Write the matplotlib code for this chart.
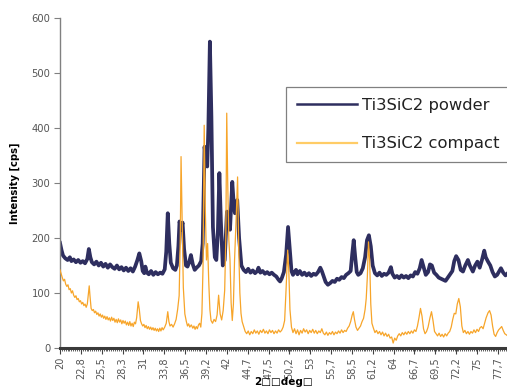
import numpy as np
import matplotlib.pyplot as plt
from matplotlib.lines import Line2D
from matplotlib.ticker import MultipleLocator

# XRD patterns (2theta in deg, intensity in cps)
powder_2theta = [
    20.0, 20.2, 20.4, 20.7, 21.0, 21.3, 21.5, 21.8, 22.1, 22.4, 22.7, 23.0, 23.3, 23.6, 23.8, 24.0,
    24.2, 24.5, 24.8, 25.1, 25.4, 25.7, 26.0, 26.3, 26.6, 26.9, 27.2, 27.5, 27.8, 28.1, 28.4, 28.7,
    29.0, 29.3, 29.6, 29.9, 30.2, 30.45, 30.7, 30.9, 31.1, 31.25, 31.45, 31.7, 32.0, 32.3, 32.6,
    32.9, 33.2, 33.5, 33.8, 34.0, 34.2, 34.4, 34.6, 34.9, 35.2, 35.4, 35.6, 35.75, 35.95, 36.15,
    36.35, 36.6, 36.8, 37.0, 37.25, 37.5, 37.75, 38.0, 38.3, 38.6, 38.8, 39.05, 39.2, 39.4, 39.55,
    39.75, 39.95, 40.15, 40.4, 40.6, 40.8, 41.0, 41.2, 41.45, 41.7, 42.0, 42.2, 42.4, 42.7, 42.9,
    43.05, 43.35, 43.6, 43.9, 44.2, 44.5, 44.8, 45.1, 45.4, 45.7, 46.0, 46.15, 46.4, 46.7, 47.0,
    47.3, 47.6, 47.9, 48.2, 48.5, 48.8, 49.0, 49.2, 49.5, 49.8, 50.05, 50.3, 50.5, 50.7, 50.9, 51.1,
    51.3, 51.6, 51.9, 52.2, 52.5, 52.8, 53.1, 53.4, 53.7, 54.0, 54.3, 54.5, 54.8, 55.0, 55.3, 55.6,
    55.9, 56.2, 56.5, 56.8, 57.1, 57.4, 57.7, 58.0, 58.3, 58.5, 58.7, 58.9, 59.1, 59.3, 59.6, 59.9,
    60.2, 60.45, 60.7, 60.95, 61.2, 61.5, 61.8, 62.1, 62.4, 62.7, 63.0, 63.3, 63.6, 63.8, 64.1,
    64.4, 64.7, 65.0, 65.3, 65.6, 65.9, 66.2, 66.5, 66.8, 67.1, 67.4, 67.65, 67.9, 68.2, 68.5,
    68.75, 69.0, 69.3, 69.6, 69.9, 70.2, 70.5, 70.8, 71.1, 71.4, 71.7, 71.95, 72.2, 72.5, 72.8,
    73.1, 73.4, 73.75, 74.0, 74.4, 74.7, 75.0, 75.3, 75.6, 75.9, 76.1, 76.4, 76.7, 77.0, 77.3,
    77.6, 77.9, 78.1, 78.4, 78.7, 79.0]
powder_cps = [
    191, 178, 168, 163, 160, 165, 158, 161, 156, 160, 155, 158, 154, 162, 180, 165,
    156, 152, 157, 150, 155, 148, 153, 146, 152, 147, 144, 150, 143, 147, 141, 146,
    140, 145, 139, 148, 160, 172, 158, 140, 136, 148, 137, 134, 140, 133, 138,
    134, 137, 135, 143, 175, 245, 190, 155, 145, 142, 150, 185, 230, 215, 228,
    180, 150, 148, 155, 169, 152, 142, 146, 150, 158, 190, 366, 345, 330, 400,
    557, 420, 220, 165, 160, 210, 318, 230, 150, 160, 248, 235, 215, 302, 260,
    245, 269, 200, 150, 142, 138, 144, 137, 141, 136, 140, 146, 137, 140, 135,
    138, 134, 137, 133, 130, 124, 121, 126, 138, 170, 220, 175, 140, 133, 138, 142,
    134, 140, 133, 137, 132, 136, 131, 135, 133, 138, 146, 140, 128, 120, 115, 118,
    122, 120, 126, 124, 129, 127, 133, 136, 140, 170, 196, 165, 138, 133, 136, 145,
    165, 196, 205, 185, 150, 136, 132, 137, 131, 135, 133, 137, 147, 135, 128,
    131, 127, 132, 128, 131, 127, 132, 130, 138, 135, 145, 160, 148, 133, 138,
    152, 150, 137, 133, 128, 126, 124, 122, 128, 134, 140, 158, 167, 160, 142,
    139, 150, 160, 150, 139, 150, 157, 146, 160, 177, 165, 157, 150, 138, 130,
    133, 140, 145, 137, 132, 136]

compact_2theta = [
    20.0, 20.15, 20.3, 20.45, 20.6, 20.75, 20.9, 21.05, 21.2, 21.35, 21.5, 21.65, 21.8, 21.95,
    22.1, 22.25, 22.4, 22.55, 22.7, 22.85, 23.0, 23.15, 23.3, 23.45, 23.6, 23.75, 23.85, 23.95,
    24.1, 24.25, 24.4, 24.55, 24.7, 24.85, 25.0, 25.15, 25.3, 25.45, 25.6, 25.75, 25.9, 26.05,
    26.2, 26.35, 26.5, 26.65, 26.8, 26.95, 27.1, 27.25, 27.4, 27.55, 27.7, 27.85, 28.0, 28.15,
    28.3, 28.45, 28.6, 28.75, 28.9, 29.05, 29.2, 29.35, 29.5, 29.65, 29.8, 29.95, 30.1, 30.3,
    30.45, 30.6, 30.75, 30.9, 31.05, 31.2, 31.35, 31.5, 31.65, 31.8, 31.95, 32.1, 32.25, 32.4,
    32.55, 32.7, 32.85, 33.0, 33.15, 33.3, 33.45, 33.6, 33.8, 34.0, 34.2, 34.35, 34.5, 34.7,
    34.9, 35.1, 35.3, 35.5, 35.7, 35.85, 35.95, 36.1, 36.25, 36.45, 36.65, 36.8, 36.95, 37.1,
    37.3, 37.5, 37.65, 37.8, 37.95, 38.1, 38.25, 38.4, 38.55, 38.7, 38.85, 39.0, 39.15, 39.3,
    39.45, 39.6, 39.75, 39.9, 40.1, 40.3, 40.5, 40.7, 40.9, 41.1, 41.3, 41.5, 41.7, 41.85,
    41.97, 42.1, 42.25, 42.4, 42.55, 42.7, 42.85, 43.0, 43.25, 43.4, 43.55, 43.7, 43.85, 44.0,
    44.2, 44.4, 44.6, 44.8, 45.0, 45.2, 45.4, 45.6, 45.8, 46.0, 46.2, 46.4, 46.6, 46.8, 47.0,
    47.2, 47.4, 47.6, 47.8, 48.0, 48.2, 48.4, 48.6, 48.8, 49.0, 49.2, 49.4, 49.6, 49.8, 50.0,
    50.15, 50.3, 50.5, 50.7, 50.9, 51.1, 51.3, 51.5, 51.7, 51.9, 52.1, 52.3, 52.5, 52.7, 52.9,
    53.1, 53.3, 53.5, 53.7, 53.9, 54.1, 54.3, 54.5, 54.7, 54.9, 55.1, 55.3, 55.5, 55.7, 55.9,
    56.1, 56.3, 56.5, 56.7, 56.9, 57.1, 57.3, 57.5, 57.7, 57.9, 58.1, 58.3, 58.5, 58.65, 58.8,
    59.0, 59.2, 59.4, 59.6, 59.8, 60.0, 60.2, 60.35, 60.5, 60.65, 60.8, 60.95, 61.1, 61.3, 61.5,
    61.7, 61.9, 62.1, 62.3, 62.5, 62.7, 62.9, 63.1, 63.3, 63.5, 63.7, 63.9, 64.1, 64.3, 64.5,
    64.7, 64.9, 65.1, 65.3, 65.5, 65.7, 65.9, 66.1, 66.3, 66.5, 66.7, 66.9, 67.1, 67.3, 67.5,
    67.7, 67.9, 68.1, 68.3, 68.5, 68.75, 68.95, 69.15, 69.35, 69.55, 69.75, 69.95, 70.15, 70.35,
    70.55, 70.75, 70.95, 71.15, 71.35, 71.55, 71.75, 71.95, 72.15, 72.35, 72.55, 72.75, 72.95,
    73.15, 73.35, 73.55, 73.75, 73.95, 74.15, 74.35, 74.55, 74.75, 74.95, 75.15, 75.35, 75.55,
    75.75, 75.95, 76.15, 76.4, 76.6, 76.8, 77.0, 77.2, 77.4, 77.6, 77.8, 78.0, 78.2, 78.4, 78.6,
    78.8, 79.0]
compact_cps = [
    142, 135, 128, 122, 125, 116, 112, 115, 106, 108, 100, 104, 96, 92,
    95, 88, 90, 84, 86, 80, 83, 77, 80, 74, 80, 100, 113, 95,
    72, 68, 70, 64, 67, 61, 64, 58, 62, 56, 60, 54, 58, 52,
    57, 51, 55, 49, 56, 50, 54, 47, 52, 46, 53, 47, 51, 44,
    50, 45, 49, 42, 47, 41, 48, 40, 45, 39, 47, 44, 55, 84,
    70, 50, 44, 40, 43, 37, 41, 35, 39, 34, 38, 33, 37, 32,
    36, 31, 35, 30, 36, 31, 37, 33, 38, 45, 66, 48, 40, 43,
    38, 44, 52, 70, 95, 200, 348, 230, 110, 62, 48, 40, 44, 38,
    42, 36, 40, 34, 39, 35, 42, 45, 38, 63, 150, 405, 250, 160,
    190, 120, 70, 50, 45, 52, 48, 60, 96, 62, 51, 68, 105, 200,
    427, 300, 196, 160, 82, 50, 80, 160, 250, 311, 180, 100, 63, 48,
    39, 30, 26, 31, 24, 30, 26, 33, 27, 31, 25, 32, 28, 34, 27,
    31, 26, 33, 28, 32, 26, 31, 27, 33, 29, 32, 38, 50, 110, 178,
    140, 70, 38, 28, 35, 26, 33, 24, 32, 27, 35, 29, 33, 26, 32,
    28, 34, 27, 32, 26, 31, 28, 35, 27, 24, 29, 23, 28, 25, 30,
    24, 29, 26, 31, 27, 33, 28, 32, 30, 36, 40, 48, 60, 66, 52,
    38, 32, 36, 40, 48, 54, 70, 90, 130, 193, 160, 80, 45, 36, 28,
    32, 26, 30, 24, 29, 22, 27, 21, 25, 18, 20, 9, 18, 14, 22,
    26, 22, 28, 24, 29, 25, 30, 26, 31, 27, 33, 30, 40, 55, 72,
    58, 35, 26, 30, 38, 55, 66, 50, 30, 26, 22, 27, 21, 25,
    20, 26, 22, 27, 30, 38, 52, 63, 62, 80, 90, 75, 40,
    28, 32, 26, 30, 25, 30, 27, 33, 28, 34, 30, 37, 39,
    35, 45, 55, 64, 68, 60, 40, 25, 21, 28, 33, 36, 39, 32, 26,
    24, 22]

tick_labels = ['20', '22,8', '25,5', '28,3', '31', '33,8', '36,5', '39,2', '42', '44,7', '47,5',
               '50,2', '53', '55,7', '58,5', '61,2', '64', '66,7', '69,5', '72,2', '75', '77,7']

navy = '#2e2e5f'
orange = '#f7a52a'

fig = plt.figure(figsize=(5.07, 3.87), dpi=100)
ax = fig.add_axes([60 / 507, 39 / 387, 447 / 507, 330 / 387])

ax.plot(powder_2theta, powder_cps, color=navy, lw=2.7, solid_joinstyle='round', zorder=2)
ax.plot(compact_2theta, compact_cps, color=orange, lw=0.9, zorder=3)

ax.set_xlim(20, 78.9)
ax.set_ylim(0, 600)

# category-style ticks as in the spreadsheet chart
tick_pos = np.linspace(20, 77.7, len(tick_labels))
ax.set_xticks(tick_pos)
ax.set_xticklabels(tick_labels, rotation=90, fontsize=7.0, color='#555555')
ax.xaxis.set_minor_locator(MultipleLocator(0.25))
ax.tick_params(axis='x', which='major', length=4, width=0.8, color='#444444', pad=2.5)
ax.tick_params(axis='x', which='minor', length=2.5, width=0.6, color='#444444')

ax.set_yticks(range(0, 601, 100))
ax.tick_params(axis='y', labelsize=7.2, labelcolor='#555555', length=4, width=0.8,
               color='#808080', pad=3)

for s in ['top', 'right']:
    ax.spines[s].set_visible(False)
ax.spines['left'].set_color('#808080')
ax.spines['left'].set_linewidth(1.0)
ax.spines['bottom'].set_color('#3a3a3a')
ax.spines['bottom'].set_linewidth(2.2)

ax.set_ylabel('Intensity [cps]', fontsize=7.2, fontweight='bold')
ax.yaxis.set_label_coords(-40 / 447, 0.5)
ax.set_xlabel('2\u25a1\u25a1deg\u25a1', fontsize=7.5, fontweight='bold', va='center')
ax.xaxis.set_label_coords(0.5, -34 / 330)

handles = [Line2D([], [], color=navy, lw=1.8),
           Line2D([], [], color='#ffcc66', lw=1.6)]
leg = fig.legend(handles, ['Ti3SiC2 powder', 'Ti3SiC2 compact'],
                 loc='upper left', bbox_to_anchor=(286 / 507, 1 - 87 / 387),
                 borderaxespad=0, fontsize=11.8, handlelength=3.7, handletextpad=0.3,
                 labelspacing=1.45, borderpad=0.65, fancybox=False,
                 edgecolor='#808080', framealpha=1)
leg.get_frame().set_linewidth(0.9)
for t in leg.get_texts():
    t.set_color('#222222')

fig.savefig('out.png', dpi=100)
